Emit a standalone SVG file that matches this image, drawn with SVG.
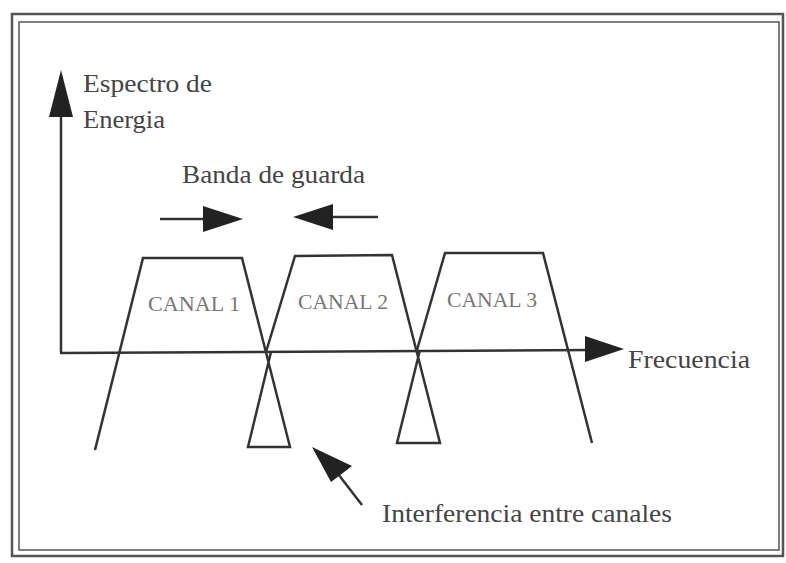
<svg xmlns="http://www.w3.org/2000/svg" width="786" height="563" viewBox="0 0 786 563">
<style>
.frame{fill:none;stroke:#555;}
.ln{fill:none;stroke:#333;stroke-width:2.5;stroke-linejoin:miter;}
.lbl{font-family:"Liberation Serif","Times New Roman",serif;font-size:26px;fill:#444;}
.can{font-family:"Liberation Serif","Times New Roman",serif;font-size:21px;fill:#777;}
.head{fill:#222;}
</style>
<rect width="786" height="563" fill="#fff"/>
<g id="frame">
<rect class="frame" x="12" y="14" width="771" height="542" stroke-width="2.5"/>
<rect class="frame" x="19" y="22" width="760" height="528" stroke-width="1.5"/>
</g>
<g id="axes">
<line class="ln" x1="61" y1="110" x2="61" y2="353"/>
<polygon class="head" points="61,70 49,117 73,117"/>
<line class="ln" x1="60" y1="353" x2="590" y2="350"/>
<polygon class="head" points="624,349 585,336 585,362"/>
</g>
<g id="canal1">
<polyline class="ln" points="95,450 143,258 242,258 290,447 248,447 271,352"/>
<text class="can" x="148" y="311" textLength="92" lengthAdjust="spacingAndGlyphs">CANAL 1</text>
</g>
<g id="canal2">
<polyline class="ln" points="266,352 295,256 392,255 440,443 397,443 420,350"/>
<text class="can" x="298" y="309" textLength="90" lengthAdjust="spacingAndGlyphs">CANAL 2</text>
</g>
<g id="canal3">
<polyline class="ln" points="417,350 445,253 543,253 592,443"/>
<text class="can" x="447" y="307" textLength="90" lengthAdjust="spacingAndGlyphs">CANAL 3</text>
</g>
<g id="labels">
<text class="lbl" x="83" y="92" textLength="129" lengthAdjust="spacingAndGlyphs">Espectro de</text>
<text class="lbl" x="83" y="128" textLength="82" lengthAdjust="spacingAndGlyphs">Energia</text>
<text class="lbl" x="182" y="183" textLength="183" lengthAdjust="spacingAndGlyphs" fill="#666">Banda de guarda</text>
<text class="lbl" x="628" y="368" textLength="122" lengthAdjust="spacingAndGlyphs">Frecuencia</text>
<text class="lbl" x="382" y="522" textLength="290" lengthAdjust="spacingAndGlyphs">Interferencia entre canales</text>
</g>
<g id="connectors">
<line class="ln" x1="160" y1="219" x2="210" y2="219"/>
<polygon class="head" points="243,219 203,206 203,232"/>
<line class="ln" x1="325" y1="217" x2="378" y2="217"/>
<polygon class="head" points="293,217 333,204 333,230"/>
<line class="ln" x1="362" y1="505" x2="335" y2="470"/>
<polygon class="head" points="312,447 352,466 331,482"/>
</g>
</svg>
